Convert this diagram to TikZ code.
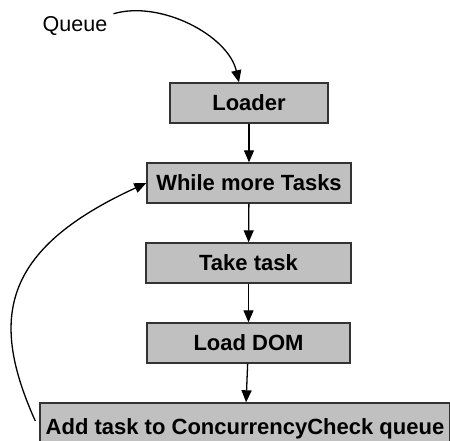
\documentclass[tikz,border=0pt]{standalone}
\usepackage{fontspec}
\setmainfont{Liberation Sans}
\usetikzlibrary{arrows.meta}
\definecolor{boxgray}{HTML}{C0C0C0}
\definecolor{edgegray}{HTML}{333333}
\tikzset{
  stepbox/.style={draw=edgegray, line width=1.4pt, fill=boxgray, minimum height=40pt,
    inner sep=0pt, font=\fontsize{22}{26}\selectfont\bfseries},
  flow/.style={line width=1.3pt, -{Triangle[length=12pt,width=10pt]}},
}
\begin{document}
\begin{tikzpicture}[x=1pt, y=-1pt]
  \useasboundingbox (0,0) rectangle (450,441);
  \clip (0,0) rectangle (450,441);

  % label of the incoming queue
  \node[inner sep=0pt, font=\fontsize{21.5}{25}\selectfont] (queue) at (75,26.5) {Queue};

  % processing steps
  \node[stepbox, minimum width=158pt] (loader) at (249,103) {Loader};
  \node[stepbox, minimum width=204pt] (while)  at (249,183) {While more Tasks};
  \node[stepbox, minimum width=205pt] (take)   at (248.5,263) {Take task};
  \node[stepbox, minimum width=203pt] (dom)    at (248.5,343) {Load DOM};
  \node[stepbox, minimum width=410pt, minimum height=52pt] (add) at (245,429)
    {Add task to ConcurrencyCheck queue};

  % endpoints of the curved connectors
  \coordinate (qstart) at ([xshift=6pt, yshift=3pt]queue.north east);
  \coordinate (qend) at ([xshift=-10pt]loader.north);
  \coordinate (loopstart) at ([xshift=-4pt, yshift=8pt]add.west);

  % connectors
  \draw[flow] (qstart) .. controls (160,0) and (228,35) .. (qend);
  \draw[flow] (loader) -- (while);
  \draw[flow] (while) -- (take);
  \draw[flow] (take) -- (dom);
  \draw[flow] (dom) -- (add);
  \draw[flow] (loopstart) .. controls (-10,320) and (0,250) .. (while.west);
\end{tikzpicture}
\end{document}
